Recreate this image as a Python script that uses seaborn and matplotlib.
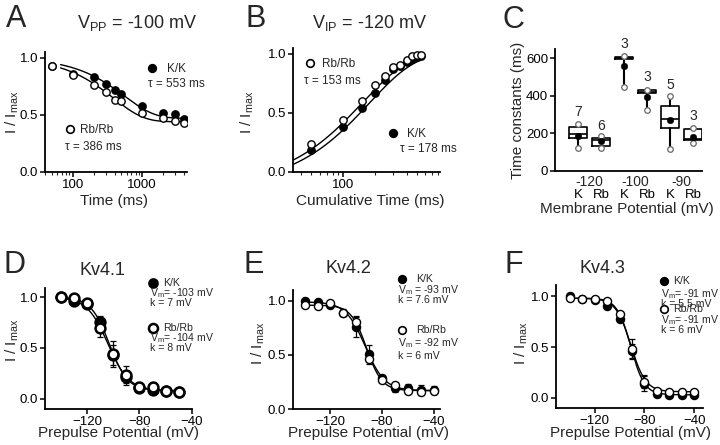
import numpy as np
import pandas as pd
import matplotlib
matplotlib.use("Agg")
import matplotlib.pyplot as plt
from matplotlib.lines import Line2D
from matplotlib.ticker import LogLocator, NullFormatter
import seaborn as sns

sns.set_style("ticks")
plt.rcParams['font.family'] = ['Liberation Sans', 'DejaVu Sans']
plt.rcParams['mathtext.default'] = 'regular'

W, H = 720, 445

# A: Vpp = -100 mV, recovery vs time
a_time = [50, 100, 200, 300, 400, 500, 1000, 2000, 3000, 4000]
a_kk = [0.93, 0.86, 0.83, 0.77, 0.72, 0.68, 0.58, 0.52, 0.51, 0.46]
a_rb = [0.93, 0.85, 0.76, 0.70, 0.63, 0.62, 0.52, 0.47, 0.45, 0.43]
a_tau = {'kk': 553, 'rb': 386}
a_base = {'kk': 0.47, 'rb': 0.44}

# B: Vip = -120 mV, cumulative time
b_time = [50, 100, 150, 200, 250, 300, 350, 400, 450, 500, 550]
b_kk = [0.19, 0.38, 0.54, 0.67, 0.78, 0.87, 0.90, 0.93, 0.96, 0.97, 0.98]
b_rb = [0.24, 0.44, 0.60, 0.74, 0.81, 0.89, 0.91, 0.95, 0.98, 0.99, 0.99]
b_tau = {'kk': 178, 'rb': 153}
b_amp = {'kk': 1.13, 'rb': 1.12}

# C: time constants, box stats
c_labels = ['K', 'Rb', 'K', 'Rb', 'K', 'Rb']
c_groups = ['-120', '-100', '-90']
c_n = [7, 6, 3, 3, 5, 3]
c_q1 = [175, 131, 597, 414, 228, 163]
c_med = [198, 162, 602, 419, 278, 172]
c_q3 = [234, 177, 606, 428, 347, 225]
c_min = [122, 122, 448, 326, 119, 147]
c_max = [248, 184, 612, 432, 400, 228]
c_mean = [188, 158, 556, 391, 273, 180]
c_nlab_y = [311, 241, 676, 499, 458, 294]

# D-F: prepulse potential
v = [-140, -130, -120, -110, -100, -90, -80, -70, -60, -50, -40]
d_kk = [1.00, 0.96, 0.93, 0.76, 0.43, 0.21, 0.11, 0.09, 0.08, 0.07]
d_rb = [1.00, 0.99, 0.94, 0.70, 0.44, 0.23, 0.12, 0.12, 0.08, 0.07]
d_kk_err = [0.01, 0.02, 0.02, 0.05, 0.10, 0.05, 0.03, 0.02, 0.02, 0.02]
d_rb_err = [0.01, 0.01, 0.02, 0.09, 0.13, 0.09, 0.05, 0.05, 0.02, 0.02]
e_kk = [1.00, 0.99, 0.96, 0.89, 0.76, 0.51, 0.29, 0.19, 0.19, 0.18, 0.18]
e_rb = [0.96, 0.95, 0.98, 0.89, 0.80, 0.46, 0.27, 0.22, 0.17, 0.16, 0.17]
e_kk_err = [0.01, 0.01, 0.02, 0.02, 0.09, 0.08, 0.02, 0.03, 0.04, 0.04, 0.03]
e_rb_err = [0.01, 0.01, 0.01, 0.03, 0.06, 0.04, 0.02, 0.02, 0.02, 0.03, 0.03]
f_kk = [1.00, 0.97, 0.96, 0.90, 0.78, 0.46, 0.14, 0.04, 0.03, 0.03, 0.03]
f_rb = [0.98, 0.97, 0.97, 0.95, 0.82, 0.48, 0.16, 0.07, 0.06, 0.06, 0.06]
f_kk_err = [0.01, 0.01, 0.02, 0.02, 0.03, 0.07, 0.07, 0.01, 0.01, 0.01, 0.01]
f_rb_err = [0.01, 0.01, 0.01, 0.01, 0.02, 0.10, 0.06, 0.01, 0.01, 0.01, 0.01]
# boltzmann fit params: Vm, k, bottom, top
d_fit = {'kk': (-103, 7, 0.08, 1.0), 'rb': (-104, 8, 0.08, 1.0)}
e_fit = {'kk': (-93, 7.6, 0.17, 0.99), 'rb': (-92, 6, 0.17, 0.96)}
f_fit = {'kk': (-91, 5.5, 0.03, 0.98), 'rb': (-91, 6, 0.06, 0.98)}

fig = plt.figure(figsize=(7.2, 4.45), dpi=100)


def add_ax(l, t, r, b):
    ax = fig.add_axes([l / W, 1 - b / H, (r - l) / W, (b - t) / H])
    sns.despine(ax=ax)
    for s in ['left', 'bottom']:
        ax.spines[s].set_linewidth(1.3)
        ax.spines[s].set_color('black')
    ax.tick_params(direction='out', length=3.5, width=1.1, labelsize=9.5, pad=1.5, colors='black')
    ax.tick_params(which='minor', direction='out', length=2, width=0.8)
    return ax


def ftext(x, y, s, **kw):
    # y is the baseline in picture pixels
    kw.setdefault('fontsize', 8.5)
    kw.setdefault('va', 'baseline')
    fig.text(x / W, 1 - y / H, s, **kw)


def fmark(x, y, filled, ms=5.5, mew=1.2):
    fig.add_artist(Line2D([x / W], [1 - y / H], marker='o', ms=ms, mew=mew,
                          mfc='black' if filled else 'white', mec='black',
                          transform=fig.transFigure))


def pts(ax, x, y, filled, s=28, lw=1.0):
    sns.scatterplot(x=x, y=y, ax=ax, s=s, color='black' if filled else 'white',
                    edgecolor='black', linewidth=lw, zorder=4, legend=False)


def curve(ax, x, y):
    sns.lineplot(x=x, y=y, ax=ax, color='black', linewidth=1.0, zorder=3)


def ylab(x, y):
    ftext(x, y, 'I / I$_{max}$', fontsize=11, rotation=90, ha='center', va='center')


def xlab(x, y, s):
    ftext(x, y, s, fontsize=11, ha='center', va='center')


# ---------- A ----------
ax = add_ax(45, 52, 187, 172)
ax.set_xscale('log')
t = np.geomspace(67, 4000, 200)
for key in ['kk', 'rb']:
    curve(ax, t, a_base[key] + (1 - a_base[key]) * np.exp(-t / a_tau[key]))
pts(ax, a_time, a_kk, True)
pts(ax, a_time, a_rb, False)
ax.set_xlim(40, 4400)
ax.set_ylim(0, 1.05)
ax.set_xticks([100, 1000])
ax.set_xticklabels(['100', '1000'])
ax.xaxis.set_minor_locator(LogLocator(subs=np.arange(2, 10)))
ax.xaxis.set_minor_formatter(NullFormatter())
ax.set_yticks([0, 0.5, 1.0])
ax.set_yticklabels(['0.0', '0.5', '1.0'])
ftext(6, 27, 'A', fontsize=22)
ftext(137, 28, 'V$_{PP}$ = -100 mV', fontsize=13, ha='center')
fmark(152, 68, True)
ftext(167, 72, 'K/K')
ftext(148, 87, 'τ = 553 ms')
fmark(70, 129, False)
ftext(80, 133, 'Rb/Rb')
ftext(65, 150, 'τ = 386 ms')
ylab(12, 112)
xlab(114, 201, 'Time (ms)')

# ---------- B ----------
ax = add_ax(293, 48, 440, 172)
ax.set_xscale('log')
t = np.geomspace(34, 550, 200)
for key in ['kk', 'rb']:
    curve(ax, t, 1 - b_amp[key] * np.exp(-t / b_tau[key]))
pts(ax, b_time, b_kk, True)
pts(ax, b_time, b_rb, False)
ax.set_xlim(33.5, 830)
ax.set_ylim(0, 1.05)
ax.set_xticks([100])
ax.set_xticklabels(['100'])
ax.xaxis.set_minor_locator(LogLocator(subs=np.arange(2, 10)))
ax.xaxis.set_minor_formatter(NullFormatter())
ax.set_yticks([0, 0.5, 1.0])
ax.set_yticklabels(['0.0', '0.5', '1.0'])
ftext(246, 27, 'B', fontsize=22)
ftext(370, 28, 'V$_{IP}$ = -120 mV', fontsize=13, ha='center')
fmark(310, 63, False)
ftext(322, 67, 'Rb/Rb')
ftext(304, 84, 'τ = 153 ms')
fmark(393, 133, True)
ftext(407, 137, 'K/K')
ftext(400, 152, 'τ = 178 ms')
ylab(247, 112)
xlab(370, 201, 'Cumulative Time (ms)')

# ---------- C ----------
ax = add_ax(555, 49, 702, 171)
pos = np.arange(len(c_labels))
stats = [dict(q1=c_q1[i], med=c_med[i], q3=c_q3[i], whislo=c_min[i], whishi=c_max[i],
              fliers=[]) for i in pos]
ax.bxp(stats, positions=pos, widths=0.8, showcaps=False, showfliers=False, patch_artist=False,
       boxprops=dict(color='black', linewidth=1.2),
       medianprops=dict(color='black', linewidth=1.2),
       whiskerprops=dict(color='black', linewidth=1.5), manage_ticks=False)
box_df = pd.DataFrame({'pos': np.concatenate([pos, pos]), 'val': c_min + c_max})
sns.scatterplot(data=box_df, x='pos', y='val', ax=ax, s=16, color='white',
                edgecolor='#666666', linewidth=0.9, zorder=4, legend=False)
sns.scatterplot(x=pos, y=c_mean, ax=ax, s=22, color='black', edgecolor='black',
                zorder=5, legend=False)
for i in pos:
    ax.text(i, c_nlab_y[i], str(c_n[i]), ha='center', va='center', fontsize=10, clip_on=False)
ax.set_xlabel('')
ax.set_ylabel('')
ax.set_xlim(-1, 5.4)
ax.set_ylim(0, 648)
ax.set_yticks([0, 200, 400, 600])
ax.set_xticks(pos)
ax.set_xticklabels(c_labels, fontsize=9.5)
ax.tick_params(axis='x', length=0, pad=13)
for g, name in enumerate(c_groups):
    ax.text(2 * g + 0.5, -0.09, name, transform=ax.get_xaxis_transform(),
            ha='center', va='center', fontsize=10)
ftext(502, 28, 'C', fontsize=22)
ftext(518, 110, 'Time constants (ms)', fontsize=11, rotation=90, ha='center', va='center')
xlab(627, 209, 'Membrane Potential (mV)')


# ---------- D-F ----------
def boltz(vv, p):
    vm, k, lo, hi = p
    return lo + (hi - lo) / (1 + np.exp((vv - vm) / k))


def iv_panel(box, xlim, ylim, kk, rb, kk_err, rb_err, fit, s, lw, vmax):
    ax = add_ax(*box)
    vx = np.linspace(-140, vmax, 200)
    for key in ['kk', 'rb']:
        curve(ax, vx, boltz(vx, fit[key]))
    vv = v[:len(kk)]
    ax.errorbar(vv, kk, yerr=kk_err, fmt='none', ecolor='black', elinewidth=0.9,
                capsize=2.5, capthick=0.9, zorder=2)
    ax.errorbar(vv, rb, yerr=rb_err, fmt='none', ecolor='black', elinewidth=0.9,
                capsize=2.5, capthick=0.9, zorder=2)
    pts(ax, vv, kk, True, s=s, lw=lw)
    pts(ax, vv, rb, False, s=s, lw=lw)
    ax.set_xlim(*xlim)
    ax.set_ylim(*ylim)
    ax.set_xticks([-120, -80, -40])
    ax.set_yticks([0, 0.5, 1.0])
    ax.set_yticklabels(['0.0', '0.5', '1.0'])
    return ax


LF = 7.6  # legend font for the lower row

iv_panel((45, 288, 192, 409), (-152, -40), (-0.1, 1.09), d_kk, d_rb, d_kk_err, d_rb_err,
         d_fit, 50, 1.8, -50)
ftext(4, 273, 'D', fontsize=22)
ftext(102, 275, 'Kv4.1', fontsize=13, ha='center')
fmark(153, 283, True, ms=6.5)
ftext(163, 286, 'K/K', fontsize=LF)
ftext(150, 296, 'V$_m$= -103 mV', fontsize=LF)
ftext(150, 306, 'k = 7 mV', fontsize=LF)
fmark(153, 328, False, ms=6.5, mew=1.8)
ftext(163, 331, 'Rb/Rb', fontsize=LF)
ftext(150, 341, 'V$_m$= -104 mV', fontsize=LF)
ftext(150, 351, 'k = 8 mV', fontsize=LF)
ylab(12, 340)
xlab(118, 433, 'Prepulse Potential (mV)')

iv_panel((293, 290, 440, 409), (-149, -35), (0, 1.1), e_kk, e_rb, e_kk_err, e_rb_err,
         e_fit, 34, 1.0, -40)
ftext(244, 273, 'E', fontsize=22)
ftext(348, 273, 'Kv4.2', fontsize=13, ha='center')
fmark(402, 279, True)
ftext(416, 282, 'K/K', fontsize=LF)
ftext(398, 293, 'V$_m$ = -93 mV', fontsize=LF)
ftext(398, 303, 'k = 7.6 mV', fontsize=LF)
fmark(402, 330, False)
ftext(416, 333, 'Rb/Rb', fontsize=LF)
ftext(398, 346, 'V$_m$ = -92 mV', fontsize=LF)
ftext(398, 359, 'k = 6 mV', fontsize=LF)
ylab(258, 343)
xlab(368, 433, 'Prepulse Potential (mV)')

iv_panel((556, 285, 703, 408), (-151, -33), (-0.1, 1.11), f_kk, f_rb, f_kk_err, f_rb_err,
         f_fit, 34, 1.0, -40)
ftext(505, 273, 'F', fontsize=22)
ftext(602, 273, 'Kv4.3', fontsize=13, ha='center')
fmark(664, 281, True)
ftext(673, 284, 'K/K', fontsize=LF)
ftext(661, 297, 'V$_m$= -91 mV', fontsize=LF)
ftext(661, 307, 'k = 5.5 mV', fontsize=LF)
fmark(664, 309, False)
ftext(673, 312, 'Rb/Rb', fontsize=LF)
ftext(661, 323, 'V$_m$= -91 mV', fontsize=LF)
ftext(661, 333, 'k = 6 mV', fontsize=LF)
ylab(521, 343)
xlab(630, 433, 'Prepulse Potential (mV)')

fig.savefig('out.png', dpi=100)
